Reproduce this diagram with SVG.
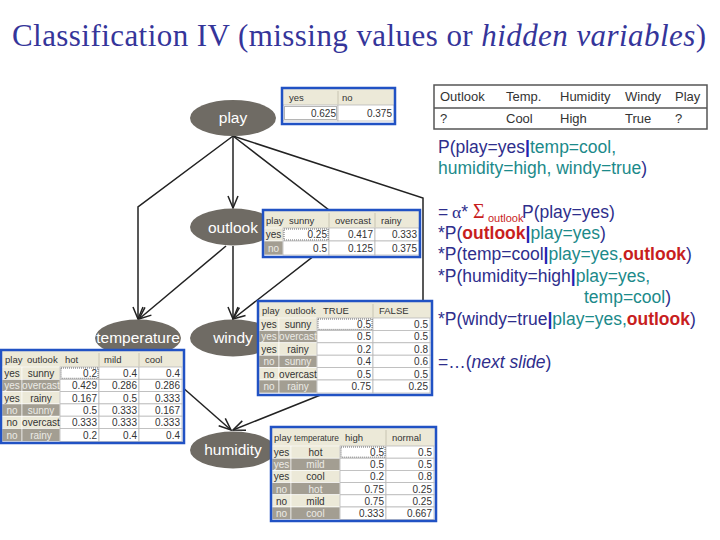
<svg xmlns="http://www.w3.org/2000/svg" width="720" height="540" viewBox="0 0 720 540">
<defs>
<marker id="arr" markerWidth="14" markerHeight="12" refX="13" refY="6" orient="auto" markerUnits="userSpaceOnUse">
<path d="M1,1 L13,6 L1,11" fill="none" stroke="#222" stroke-width="1.5"/>
</marker>
</defs>
<style>
.edge{fill:none;stroke:#222;stroke-width:1.5;marker-end:url(#arr)}
.node{fill:#6f6b64}
.nl{font-family:"Liberation Sans",Arial,sans-serif;font-size:15.5px;fill:#fff;text-anchor:middle}
.frame{fill:none;stroke:#2152c4;stroke-width:2.5}
.hdr{fill:#ece9d8}
.lt{fill:#ece9d8;stroke:#fff;stroke-width:0.6}
.dk{fill:#a39e92;stroke:#fff;stroke-width:0.6}
.cell{fill:#fff;stroke:#b8b8b8;stroke-width:0.8}
.sep{stroke:#c8c4b2;stroke-width:1}
.t{font-family:"Liberation Sans",Arial,sans-serif;font-size:10px;fill:#333}
.h{font-family:"Liberation Sans",Arial,sans-serif;font-size:9.5px;fill:#333}
.w{font-family:"Liberation Sans",Arial,sans-serif;font-size:10px;fill:#ecebe6}
.c{text-anchor:middle}
.n{text-anchor:end}
.sel{fill:none;stroke:#444;stroke-width:0.8;stroke-dasharray:1,1}
.tx{font-family:"Liberation Sans",Arial,sans-serif;font-size:17.5px;fill:#2e2e8c}
.tl{fill:#1c8a8a}
.rd{fill:#c81e1e;font-weight:bold}
.br{fill:#2222b0;font-weight:bold}
.obs{font-family:"Liberation Sans",Arial,sans-serif;font-size:13px;fill:#333}
</style>
<rect width="720" height="540" fill="#fff"/>

<text x="12" y="46" font-family="Liberation Serif,Times New Roman,serif" font-size="31" fill="#35359a" textLength="694" lengthAdjust="spacing">Classification IV (missing values or <tspan font-style="italic">hidden variables</tspan>)</text>

<g id="connectors">
<path class="edge" d="M233,136 L233,208"/>
<path class="edge" d="M233,136 L138,207 L138,319"/>
<path class="edge" d="M233,136 L351,227 L233,319"/>
<path class="edge" d="M233,136 L423,198 L423,354 L233,430"/>
<path class="edge" d="M226,246 L139,319"/>
<path class="edge" d="M233,246 L233,319"/>
<path class="edge" d="M140,350 L231,430"/>
</g>

<g id="node-play"><ellipse class="node" cx="233" cy="118" rx="43" ry="18"/><text class="nl" x="233" y="123">play</text></g>
<g id="node-outlook"><ellipse class="node" cx="233" cy="227" rx="43" ry="18.5"/><text class="nl" x="233" y="233">outlook</text></g>
<g id="node-temperature"><ellipse class="node" cx="138" cy="338" rx="43" ry="18.5"/><text class="nl" x="138" y="343">temperature</text></g>
<g id="node-windy"><ellipse class="node" cx="233" cy="338" rx="43" ry="18.5"/><text class="nl" x="233" y="343">windy</text></g>
<g id="node-humidity"><ellipse class="node" cx="233" cy="450" rx="43" ry="18.5"/><text class="nl" x="233" y="455">humidity</text></g>

<g id="cpt-play">
<rect x="283" y="89" width="111" height="34" fill="#fff"/>
<rect class="hdr" x="283" y="89" width="111" height="16"/>
<line class="sep" x1="338" y1="91" x2="338" y2="104"/>
<text class="h" x="289" y="101">yes</text><text class="h" x="342" y="101">no</text>
<rect class="cell" x="283" y="105" width="55" height="16"/><rect class="cell" x="338" y="105" width="56" height="16"/>
<rect class="sel" x="284.5" y="106.5" width="52" height="13"/>
<text class="t n" x="336" y="117">0.625</text><text class="t n" x="392" y="117">0.375</text>
<rect class="frame" x="282" y="88" width="113" height="36"/>
</g>

<g id="cpt-outlook">
<rect x="264" y="211" width="155" height="45" fill="#fff"/>
<rect class="hdr" x="264" y="211" width="155" height="17"/>
<line class="sep" x1="329" y1="213" x2="329" y2="227"/><line class="sep" x1="375" y1="213" x2="375" y2="227"/>
<text class="h" x="266" y="224">play</text><text class="h" x="289" y="224">sunny</text><text class="h" x="335" y="224">overcast</text><text class="h" x="381" y="224">rainy</text>
<rect class="lt" x="264" y="228" width="19" height="13"/>
<rect class="cell" x="283" y="228" width="46" height="13"/><rect class="cell" x="329" y="228" width="46" height="13"/><rect class="cell" x="375" y="228" width="44" height="13"/>
<rect class="sel" x="284" y="229" width="44" height="11"/>
<text class="t c" x="273.5" y="238">yes</text>
<text class="t n" x="327" y="238">0.25</text><text class="t n" x="373" y="238">0.417</text><text class="t n" x="417" y="238">0.333</text>
<rect class="dk" x="264" y="241" width="19" height="14"/>
<rect class="cell" x="283" y="241" width="46" height="14"/><rect class="cell" x="329" y="241" width="46" height="14"/><rect class="cell" x="375" y="241" width="44" height="14"/>
<text class="w c" x="273.5" y="252">no</text>
<text class="t n" x="327" y="252">0.5</text><text class="t n" x="373" y="252">0.125</text><text class="t n" x="417" y="252">0.375</text>
<rect class="frame" x="263" y="210" width="157" height="47"/>
</g>

<g id="cpt-windy">
<rect x="259" y="302" width="172" height="92" fill="#fff"/>
<rect class="hdr" x="259" y="302" width="172" height="16"/>
<line class="sep" x1="373" y1="304" x2="373" y2="317"/>
<text class="h" x="262" y="314">play</text><text class="h" x="285" y="314">outlook</text><text class="h" x="323" y="314">TRUE</text><text class="h" x="379" y="314">FALSE</text>
<rect class="lt" x="259" y="318" width="20" height="12.4"/><rect class="lt" x="279" y="318" width="38" height="12.4"/>
<rect class="cell" x="317" y="318" width="56" height="12.4"/><rect class="cell" x="373" y="318" width="57" height="12.4"/>
<rect class="sel" x="318" y="319" width="54" height="10.4"/>
<text class="t c" x="269" y="328">yes</text><text class="t c" x="298" y="328">sunny</text><text class="t n" x="371" y="328">0.5</text><text class="t n" x="428" y="328">0.5</text>
<rect class="dk" x="259" y="330.4" width="20" height="12.4"/><rect class="dk" x="279" y="330.4" width="38" height="12.4"/>
<rect class="cell" x="317" y="330.4" width="56" height="12.4"/><rect class="cell" x="373" y="330.4" width="57" height="12.4"/>
<text class="w c" x="269" y="340.4">yes</text><text class="w c" x="298" y="340.4">overcast</text><text class="t n" x="371" y="340.4">0.5</text><text class="t n" x="428" y="340.4">0.5</text>
<rect class="lt" x="259" y="342.8" width="20" height="12.4"/><rect class="lt" x="279" y="342.8" width="38" height="12.4"/>
<rect class="cell" x="317" y="342.8" width="56" height="12.4"/><rect class="cell" x="373" y="342.8" width="57" height="12.4"/>
<text class="t c" x="269" y="352.8">yes</text><text class="t c" x="298" y="352.8">rainy</text><text class="t n" x="371" y="352.8">0.2</text><text class="t n" x="428" y="352.8">0.8</text>
<rect class="dk" x="259" y="355.2" width="20" height="12.4"/><rect class="dk" x="279" y="355.2" width="38" height="12.4"/>
<rect class="cell" x="317" y="355.2" width="56" height="12.4"/><rect class="cell" x="373" y="355.2" width="57" height="12.4"/>
<text class="w c" x="269" y="365.2">no</text><text class="w c" x="298" y="365.2">sunny</text><text class="t n" x="371" y="365.2">0.4</text><text class="t n" x="428" y="365.2">0.6</text>
<rect class="lt" x="259" y="367.6" width="20" height="12.4"/><rect class="lt" x="279" y="367.6" width="38" height="12.4"/>
<rect class="cell" x="317" y="367.6" width="56" height="12.4"/><rect class="cell" x="373" y="367.6" width="57" height="12.4"/>
<text class="t c" x="269" y="377.6">no</text><text class="t c" x="298" y="377.6">overcast</text><text class="t n" x="371" y="377.6">0.5</text><text class="t n" x="428" y="377.6">0.5</text>
<rect class="dk" x="259" y="380" width="20" height="13"/><rect class="dk" x="279" y="380" width="38" height="13"/>
<rect class="cell" x="317" y="380" width="56" height="13"/><rect class="cell" x="373" y="380" width="57" height="13"/>
<text class="w c" x="269" y="390">no</text><text class="w c" x="298" y="390">rainy</text><text class="t n" x="371" y="390">0.75</text><text class="t n" x="428" y="390">0.25</text>
<rect class="frame" x="258" y="301" width="174" height="94"/>
</g>

<g id="cpt-temperature">
<rect x="2" y="351" width="181" height="91" fill="#fff"/>
<rect class="hdr" x="2" y="351" width="181" height="16"/>
<line class="sep" x1="99" y1="353" x2="99" y2="366"/><line class="sep" x1="139" y1="353" x2="139" y2="366"/>
<text class="h" x="5" y="363">play</text><text class="h" x="27" y="363">outlook</text><text class="h" x="65" y="363">hot</text><text class="h" x="104" y="363">mild</text><text class="h" x="145" y="363">cool</text>
<rect class="lt" x="2" y="367" width="20" height="12.3"/><rect class="lt" x="22" y="367" width="38" height="12.3"/>
<rect class="cell" x="60" y="367" width="39" height="12.3"/><rect class="cell" x="99" y="367" width="40" height="12.3"/><rect class="cell" x="139" y="367" width="43" height="12.3"/>
<rect class="sel" x="61" y="368" width="37" height="10.3"/>
<text class="t c" x="12" y="377">yes</text><text class="t c" x="41" y="377">sunny</text><text class="t n" x="97" y="377">0.2</text><text class="t n" x="137" y="377">0.4</text><text class="t n" x="180" y="377">0.4</text>
<rect class="dk" x="2" y="379.3" width="20" height="12.3"/><rect class="dk" x="22" y="379.3" width="38" height="12.3"/>
<rect class="cell" x="60" y="379.3" width="39" height="12.3"/><rect class="cell" x="99" y="379.3" width="40" height="12.3"/><rect class="cell" x="139" y="379.3" width="43" height="12.3"/>
<text class="w c" x="12" y="389.3">yes</text><text class="w c" x="41" y="389.3">overcast</text><text class="t n" x="97" y="389.3">0.429</text><text class="t n" x="137" y="389.3">0.286</text><text class="t n" x="180" y="389.3">0.286</text>
<rect class="lt" x="2" y="391.6" width="20" height="12.3"/><rect class="lt" x="22" y="391.6" width="38" height="12.3"/>
<rect class="cell" x="60" y="391.6" width="39" height="12.3"/><rect class="cell" x="99" y="391.6" width="40" height="12.3"/><rect class="cell" x="139" y="391.6" width="43" height="12.3"/>
<text class="t c" x="12" y="401.6">yes</text><text class="t c" x="41" y="401.6">rainy</text><text class="t n" x="97" y="401.6">0.167</text><text class="t n" x="137" y="401.6">0.5</text><text class="t n" x="180" y="401.6">0.333</text>
<rect class="dk" x="2" y="403.9" width="20" height="12.3"/><rect class="dk" x="22" y="403.9" width="38" height="12.3"/>
<rect class="cell" x="60" y="403.9" width="39" height="12.3"/><rect class="cell" x="99" y="403.9" width="40" height="12.3"/><rect class="cell" x="139" y="403.9" width="43" height="12.3"/>
<text class="w c" x="12" y="413.9">no</text><text class="w c" x="41" y="413.9">sunny</text><text class="t n" x="97" y="413.9">0.5</text><text class="t n" x="137" y="413.9">0.333</text><text class="t n" x="180" y="413.9">0.167</text>
<rect class="lt" x="2" y="416.2" width="20" height="12.3"/><rect class="lt" x="22" y="416.2" width="38" height="12.3"/>
<rect class="cell" x="60" y="416.2" width="39" height="12.3"/><rect class="cell" x="99" y="416.2" width="40" height="12.3"/><rect class="cell" x="139" y="416.2" width="43" height="12.3"/>
<text class="t c" x="12" y="426.2">no</text><text class="t c" x="41" y="426.2">overcast</text><text class="t n" x="97" y="426.2">0.333</text><text class="t n" x="137" y="426.2">0.333</text><text class="t n" x="180" y="426.2">0.333</text>
<rect class="dk" x="2" y="428.5" width="20" height="13"/><rect class="dk" x="22" y="428.5" width="38" height="13"/>
<rect class="cell" x="60" y="428.5" width="39" height="13"/><rect class="cell" x="99" y="428.5" width="40" height="13"/><rect class="cell" x="139" y="428.5" width="43" height="13"/>
<text class="w c" x="12" y="438.5">no</text><text class="w c" x="41" y="438.5">rainy</text><text class="t n" x="97" y="438.5">0.2</text><text class="t n" x="137" y="438.5">0.4</text><text class="t n" x="180" y="438.5">0.4</text>
<rect class="frame" x="1" y="350" width="183" height="93"/>
</g>

<g id="cpt-humidity">
<rect x="272" y="428" width="163" height="92" fill="#fff"/>
<rect class="hdr" x="272" y="428" width="163" height="18"/>
<line class="sep" x1="386" y1="430" x2="386" y2="445"/>
<text class="h" x="274" y="441" font-size="9">play</text><text class="h" x="294" y="441" font-size="9" textLength="45" lengthAdjust="spacingAndGlyphs">temperature</text><text class="h" x="345" y="441">high</text><text class="h" x="392" y="441">normal</text>
<rect class="lt" x="272" y="446" width="19" height="12.2"/><rect class="lt" x="291" y="446" width="49" height="12.2"/>
<rect class="cell" x="340" y="446" width="46" height="12.2"/><rect class="cell" x="386" y="446" width="48" height="12.2"/>
<rect class="sel" x="341" y="447" width="44" height="10.2"/>
<text class="t c" x="281.5" y="456">yes</text><text class="t c" x="315.5" y="456">hot</text><text class="t n" x="384" y="456">0.5</text><text class="t n" x="432" y="456">0.5</text>
<rect class="dk" x="272" y="458.2" width="19" height="12.2"/><rect class="dk" x="291" y="458.2" width="49" height="12.2"/>
<rect class="cell" x="340" y="458.2" width="46" height="12.2"/><rect class="cell" x="386" y="458.2" width="48" height="12.2"/>
<text class="w c" x="281.5" y="468.2">yes</text><text class="w c" x="315.5" y="468.2">mild</text><text class="t n" x="384" y="468.2">0.5</text><text class="t n" x="432" y="468.2">0.5</text>
<rect class="lt" x="272" y="470.4" width="19" height="12.2"/><rect class="lt" x="291" y="470.4" width="49" height="12.2"/>
<rect class="cell" x="340" y="470.4" width="46" height="12.2"/><rect class="cell" x="386" y="470.4" width="48" height="12.2"/>
<text class="t c" x="281.5" y="480.4">yes</text><text class="t c" x="315.5" y="480.4">cool</text><text class="t n" x="384" y="480.4">0.2</text><text class="t n" x="432" y="480.4">0.8</text>
<rect class="dk" x="272" y="482.6" width="19" height="12.2"/><rect class="dk" x="291" y="482.6" width="49" height="12.2"/>
<rect class="cell" x="340" y="482.6" width="46" height="12.2"/><rect class="cell" x="386" y="482.6" width="48" height="12.2"/>
<text class="w c" x="281.5" y="492.6">no</text><text class="w c" x="315.5" y="492.6">hot</text><text class="t n" x="384" y="492.6">0.75</text><text class="t n" x="432" y="492.6">0.25</text>
<rect class="lt" x="272" y="494.8" width="19" height="12.2"/><rect class="lt" x="291" y="494.8" width="49" height="12.2"/>
<rect class="cell" x="340" y="494.8" width="46" height="12.2"/><rect class="cell" x="386" y="494.8" width="48" height="12.2"/>
<text class="t c" x="281.5" y="504.8">no</text><text class="t c" x="315.5" y="504.8">mild</text><text class="t n" x="384" y="504.8">0.75</text><text class="t n" x="432" y="504.8">0.25</text>
<rect class="dk" x="272" y="507" width="19" height="12.5"/><rect class="dk" x="291" y="507" width="49" height="12.5"/>
<rect class="cell" x="340" y="507" width="46" height="12.5"/><rect class="cell" x="386" y="507" width="48" height="12.5"/>
<text class="w c" x="281.5" y="517">no</text><text class="w c" x="315.5" y="517">cool</text><text class="t n" x="384" y="517">0.333</text><text class="t n" x="432" y="517">0.667</text>
<rect class="frame" x="271" y="427" width="165" height="94"/>
</g>

<g id="observation">
<rect x="434" y="85" width="273" height="44" fill="#fff" stroke="#555" stroke-width="1.5"/>
<line x1="434" y1="108" x2="707" y2="108" stroke="#555" stroke-width="1.5"/>
<text class="obs" x="440" y="101">Outlook</text><text class="obs" x="506" y="101">Temp.</text><text class="obs" x="560" y="101">Humidity</text><text class="obs" x="625" y="101">Windy</text><text class="obs" x="675" y="101">Play</text>
<text class="obs" x="440" y="123">?</text><text class="obs" x="506" y="123">Cool</text><text class="obs" x="560" y="123">High</text><text class="obs" x="625" y="123">True</text><text class="obs" x="675" y="123">?</text>
</g>

<g id="formula">
<text class="tx" x="438" y="153">P(play=yes<tspan class="br">|</tspan><tspan class="tl">temp=cool,</tspan></text>
<text class="tx" x="438" y="174"><tspan class="tl">humidity=high, windy=true</tspan>)</text>
<text class="tx" x="438" y="218">=<tspan x="452" font-family="Liberation Serif,serif">α</tspan>*<tspan x="473" fill="#c81e1e" font-size="20" font-family="Liberation Serif,serif">Σ</tspan><tspan x="488" dy="4" font-size="11" fill="#c81e1e">outlook</tspan><tspan x="522" dy="-4">P(play=yes)</tspan></text>
<text class="tx" x="438" y="239">*P(<tspan class="rd">outlook</tspan><tspan class="br">|</tspan><tspan class="tl">play=yes</tspan>)</text>
<text class="tx" x="438" y="260">*P(temp=cool<tspan class="br">|</tspan><tspan class="tl">play=yes,</tspan><tspan class="rd">outlook</tspan>)</text>
<text class="tx" x="438" y="282">*P(humidity=high<tspan class="br">|</tspan><tspan class="tl">play=yes,</tspan></text>
<text class="tx" x="584" y="303"><tspan class="tl">temp=cool</tspan>)</text>
<text class="tx" x="438" y="325">*P(windy=true<tspan class="br">|</tspan><tspan class="tl">play=yes,</tspan><tspan class="rd">outlook</tspan>)</text>
<text class="tx" x="438" y="368">=…(<tspan font-style="italic">next slide</tspan>)</text>
</g>
</svg>
